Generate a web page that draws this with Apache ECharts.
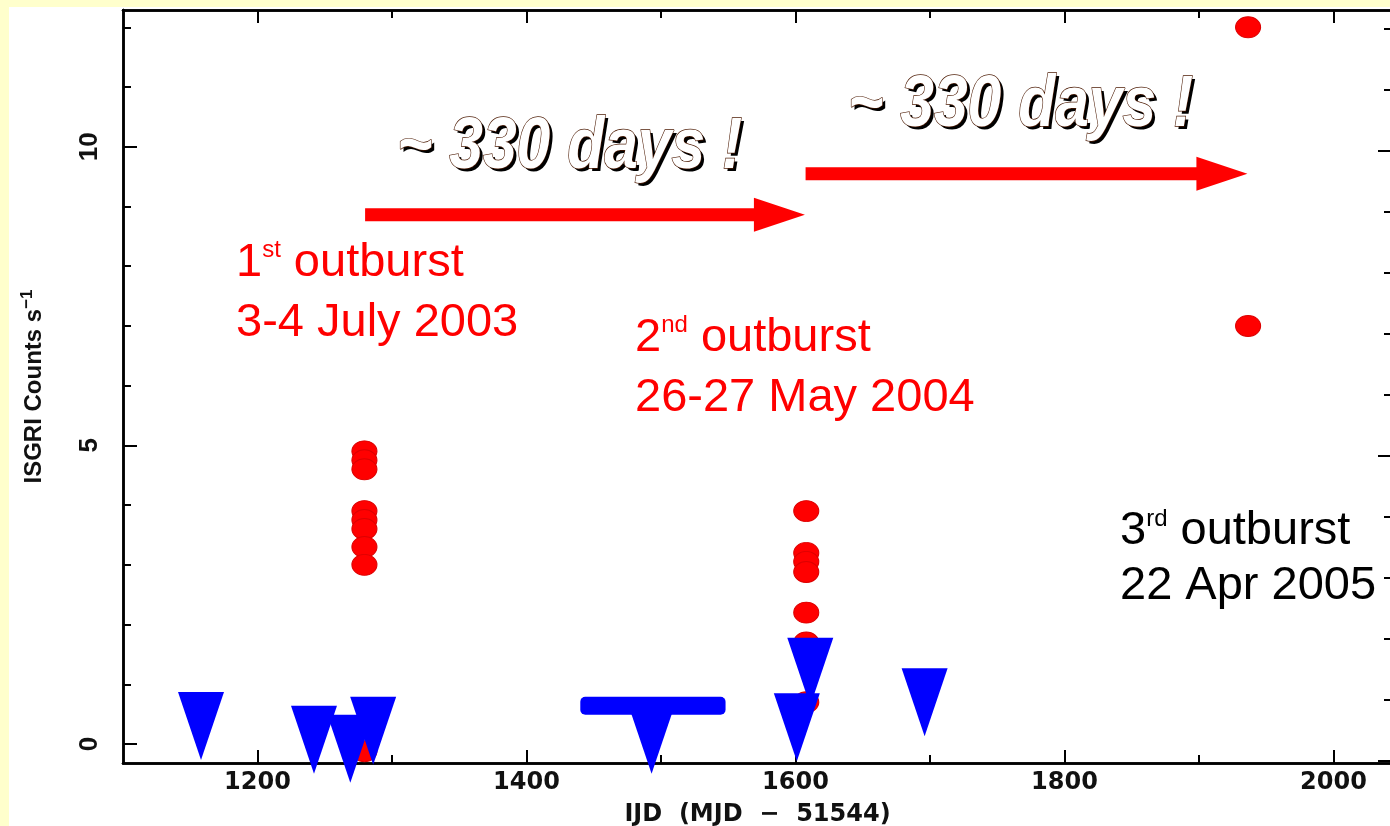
<!DOCTYPE html>
<html>
<head>
<meta charset="utf-8">
<script src="https://cdn.jsdelivr.net/npm/echarts@6/dist/echarts.min.js"></script>
<style>
  html, body { margin: 0; padding: 0; width: 1390px; height: 826px; overflow: hidden; background: #ffffcc; }
  #chart { position: absolute; left: 9px; top: 7px; width: 1381px; height: 819px; background: #ffffff; }
</style>
</head>
<body>
<div id="chart"></div>
<script>
// ISGRI count rate of the source versus IJD: outburst detections and upper limits

// detections (counts/s), one column of points per outburst
const outburst1Ijd = 1279.5;
const outburst1Rates = [4.9, 4.75, 4.6, 3.9, 3.75, 3.6, 3.3, 3.0, -0.12];
const outburst2Ijd = 1608;
const outburst2Rates = [3.9, 3.2, 3.05, 2.88, 2.2, 1.7, 0.7];
const outburst3Ijd = 1936.5;
const outburst3Rates = [12.0, 7.0];

// upper limits (counts/s), triangles hang below the limit value
const upperLimitIjd = [1158, 1242, 1269, 1286, 1493, 1611, 1601, 1696];
const upperLimitRates = [0.87, 0.64, 0.49, 0.79, 0.64, 1.78, 0.85, 1.27];

// long averaged upper limit: IJD span and level
const averagedLimitSpan = [1440, 1548];
const averagedLimitRate = 0.64;

// recurrence arrows: [from IJD, to IJD, level]
const recurrenceArrows = [[1280, 1607, 8.86], [1607.5, 1936, 9.55]];

// axis ticks
const xTicksMajor = [1200, 1400, 1600, 1800, 2000];
const xTicksMinor = [1300, 1500, 1700, 1900];
const yTicksMajor = [0, 5, 10];
const yTicksMinor = [1, 2, 3, 4, 6, 7, 8, 9, 11, 12];
const rightTicksMajor = [0, 5, 10];
const rightTicksMinor = [1, 2, 3, 4, 6, 7, 8, 9, 11, 12];

const X_MIN = 1100, X_MAX = 2043.5;
const Y_MIN = -0.318, Y_MAX = 12.29;
const R_MIN = -0.033, R_MAX = 12.31;

// outburst notes: first line centre (y1), second line centre (y2), superscript centre (ys)
const outburstNotes = [
  { ord: '1', sup: 'st', date: '3-4 July 2003', color: '#ff0000', x: 227, y1: 256, y2: 316, ys: 243 },
  { ord: '2', sup: 'nd', date: '26-27 May 2004', color: '#ff0000', x: 626, y1: 331, y2: 391, ys: 318 },
  { ord: '3', sup: 'rd', date: '22 Apr 2005', color: '#000000', x: 1111, y1: 524, y2: 579, ys: 512 }
];
const recurrenceText = '~ 330 days !';
const recurrenceTextPos = [[388, 141], [839, 99]];

const dots = [];
outburst1Rates.forEach(v => dots.push([outburst1Ijd, v]));
outburst2Rates.forEach(v => dots.push([outburst2Ijd, v]));
outburst3Rates.forEach(v => dots.push([outburst3Ijd, v]));
const limits = upperLimitIjd.map((x, i) => [x, upperLimitRates[i]]);

const AX = '#000';
function xAxis(pos, ticks, len, labelled) {
  return {
    type: 'value', position: pos, min: X_MIN, max: X_MAX,
    axisLine: { show: true, onZero: false, lineStyle: { color: AX, width: 2.5 } },
    axisTick: { show: true, inside: true, length: len, customValues: ticks, lineStyle: { color: AX, width: 2 } },
    axisLabel: labelled ? {
      show: true, customValues: ticks, margin: 8, color: '#111',
      fontFamily: 'DejaVu Sans', fontSize: 24, fontWeight: 'bold',
      formatter: v => String(v)
    } : { show: false },
    splitLine: { show: false },
    name: labelled ? 'IJD  (MJD  \u2212  51544)' : '',
    nameLocation: 'middle', nameGap: 40,
    nameTextStyle: { fontFamily: 'DejaVu Sans', fontSize: 24, fontWeight: 'bold', color: '#111' }
  };
}
function yAxis(pos, ticks, len, labelled, min, max) {
  return {
    type: 'value', position: pos, min: min, max: max,
    axisLine: { show: true, onZero: false, lineStyle: { color: AX, width: 2.5 } },
    axisTick: { show: true, inside: true, length: len, customValues: ticks, lineStyle: { color: AX, width: 2 } },
    axisLabel: labelled ? {
      show: true, customValues: ticks, rotate: 90, margin: 20, color: '#111',
      fontFamily: 'Liberation Sans', fontSize: 26, fontWeight: 'bold'
    } : { show: false },
    splitLine: { show: false },
    name: labelled ? '{a|ISGRI Counts s}{b|\u22121}' : '',
    nameLocation: 'middle', nameRotate: 90, nameGap: 74,
    nameTextStyle: {
      rich: {
        a: { fontFamily: 'Liberation Sans', fontSize: 24, fontWeight: 'bold', color: '#111', lineHeight: 30 },
        b: { fontFamily: 'Liberation Sans', fontSize: 17, fontWeight: 'bold', color: '#111', lineHeight: 14, verticalAlign: 'top' }
      }
    }
  };
}

const chart = echarts.init(document.getElementById('chart'), null, { renderer: 'canvas' });
chart.setOption({
  animation: false,
  backgroundColor: '#ffffff',
  grid: { left: 114, top: 3, width: 1269, height: 753, containLabel: false, outerBoundsMode: 'none' },
  xAxis: [
    xAxis('bottom', xTicksMajor, 13, true),
    xAxis('bottom', xTicksMinor, 8, false),
    xAxis('top', xTicksMajor, 13, false),
    xAxis('top', xTicksMinor, 8, false)
  ],
  yAxis: [
    yAxis('left', yTicksMajor, 14, true, Y_MIN, Y_MAX),
    yAxis('left', yTicksMinor, 8, false, Y_MIN, Y_MAX),
    yAxis('right', rightTicksMajor, 14, false, R_MIN, R_MAX),
    yAxis('right', rightTicksMinor, 8, false, R_MIN, R_MAX)
  ],
  series: [
    {
      type: 'scatter', xAxisIndex: 0, yAxisIndex: 0, data: dots,
      symbol: 'circle', symbolSize: [25, 21],
      itemStyle: { color: '#ff0000', borderColor: '#dd0000', borderWidth: 1, opacity: 1 }
    },
    {
      type: 'scatter', xAxisIndex: 0, yAxisIndex: 0, data: limits,
      symbol: 'path://M0,0 L46,0 L23,68 Z', symbolSize: [46, 68], symbolKeepAspect: false,
      symbolOffset: [0, 34],
      itemStyle: { color: '#0000ff', opacity: 1 }
    },
    {
      type: 'custom', xAxisIndex: 0, yAxisIndex: 0,
      data: [[averagedLimitSpan[0], averagedLimitSpan[1], averagedLimitRate]],
      renderItem: function (params, api) {
        const a = api.coord([api.value(0), api.value(2)]);
        const b = api.coord([api.value(1), api.value(2)]);
        return {
          type: 'rect',
          shape: { x: a[0], y: a[1] - 9, width: b[0] - a[0], height: 18, r: 5 },
          style: { fill: '#0000ff' }
        };
      }
    }
  ]
});

// annotations: recurrence arrows placed through the axes, then the text notes
const graphics = [];
recurrenceArrows.forEach((arr, i) => {
  const p0 = chart.convertToPixel({ xAxisIndex: 0, yAxisIndex: 0 }, [arr[0], arr[2]]);
  const p1 = chart.convertToPixel({ xAxisIndex: 0, yAxisIndex: 0 }, [arr[1], arr[2]]);
  const y = p0[1], hl = 51, hh = 17, sh = 6.5;
  graphics.push({
    type: 'polygon', id: 'arrow' + i, z: 10,
    shape: { points: [[p0[0], y - sh], [p1[0] - hl, y - sh], [p1[0] - hl, y - hh], [p1[0], y],
                      [p1[0] - hl, y + hh], [p1[0] - hl, y + sh], [p0[0], y + sh]] },
    style: { fill: '#ff0000' }
  });
});
const bigFont = 'italic bold 73px "Liberation Sans", Arial, sans-serif';
recurrenceTextPos.forEach((p, i) => {
  graphics.push({
    type: 'text', id: 'rshadow' + i, z: 11, x: p[0] + 3, y: p[1] + 3, scaleX: 0.83,
    style: { text: recurrenceText, font: bigFont, fill: '#000000', align: 'left', verticalAlign: 'middle' }
  });
  graphics.push({
    type: 'text', id: 'rtext' + i, z: 12, x: p[0], y: p[1], scaleX: 0.83,
    style: { text: recurrenceText, font: bigFont, fill: '#ffffff', stroke: '#4a1800', lineWidth: 1.4,
             align: 'left', verticalAlign: 'middle' }
  });
});

// outburst notes: ordinal, raised suffix, then the rest of the line
const mainFont = '47px "Liberation Sans", Arial, sans-serif';
const supFont = '24px "Liberation Sans", Arial, sans-serif';
const measureCtx = document.createElement('canvas').getContext('2d');
function textWidth(t, f) { measureCtx.font = f; return measureCtx.measureText(t).width; }
outburstNotes.forEach((n, i) => {
  const wOrd = textWidth(n.ord, mainFont);
  const wSup = textWidth(n.sup, supFont);
  const pieces = [
    { t: n.ord, x: n.x, y: n.y1, f: mainFont },
    { t: n.sup, x: n.x + wOrd, y: n.ys, f: supFont },
    { t: ' outburst', x: n.x + wOrd + wSup, y: n.y1, f: mainFont },
    { t: n.date, x: n.x, y: n.y2, f: mainFont }
  ];
  pieces.forEach((pc, j) => {
    graphics.push({
      type: 'text', id: 'note' + i + '_' + j, z: 12, x: pc.x, y: pc.y,
      style: { text: pc.t, font: pc.f, fill: n.color, align: 'left', verticalAlign: 'middle' }
    });
  });
});
chart.setOption({ graphic: graphics });
</script>
</body>
</html>
